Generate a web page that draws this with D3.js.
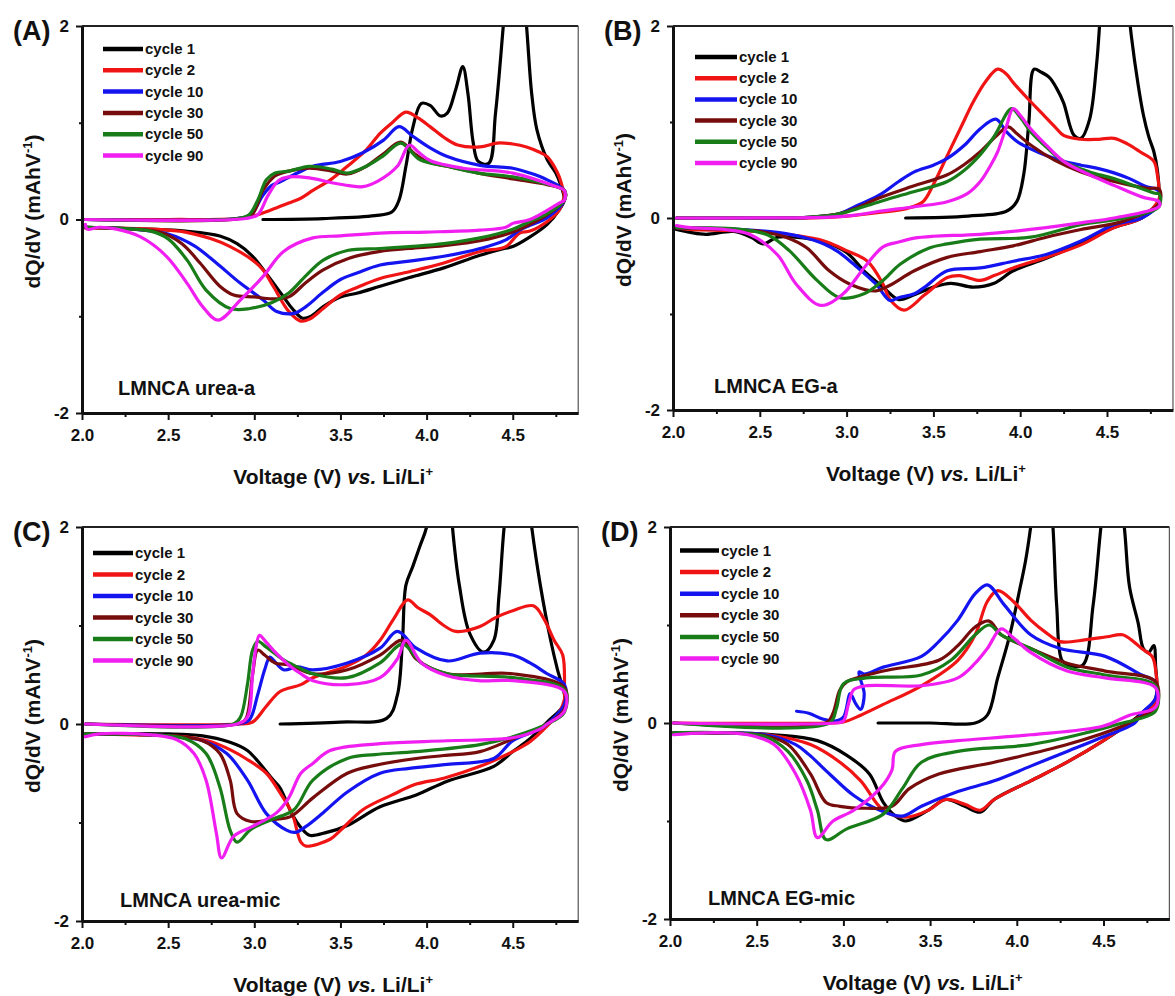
<!DOCTYPE html>
<html>
<head>
<meta charset="utf-8">
<script src="https://cdn.jsdelivr.net/npm/d3@7"></script>
<style>
  body { margin: 0; background: #fff; }
  svg { display: block; }
  text { font-family: "Liberation Sans", Arial, sans-serif; font-weight: bold; fill: #111; }
</style>
</head>
<body>
<svg id="chart" width="1175" height="996"></svg>
<script>
// ---------- axis ticks and legend entries ----------
const voltageTicks = [2.0, 2.5, 3.0, 3.5, 4.0, 4.5];
const voltageMinorTicks = [2.25, 2.75, 3.25, 3.75, 4.25, 4.75];
const dqdvTicks = [-2, 0, 2];
const dqdvMinorTicks = [-1, 1];
const cycleNames = ["cycle 1", "cycle 2", "cycle 10", "cycle 30", "cycle 50", "cycle 90"];
const sampleNames = ["LMNCA urea-a", "LMNCA EG-a", "LMNCA urea-mic", "LMNCA EG-mic"];
const panelLetters = ["(A)", "(B)", "(C)", "(D)"];

// ---------- dQ/dV curves: [voltage (V), dQ/dV (mAh/V)] ----------
// each list holds cycles 1, 2, 10, 30, 50, 90 in order

// (A) urea-a, charge branch
const ureaA_charge = [
  [[3.05,0.0],[3.4,0.01],[3.7,0.04],[3.8,0.08],[3.84,0.2],[3.88,0.55],[3.92,0.95],[3.97,1.2],[4.02,1.18],[4.08,1.07],[4.12,1.1],[4.17,1.35],[4.21,1.58],[4.24,1.3],[4.27,0.8],[4.3,0.6],[4.36,0.58],[4.4,1.1],[4.445,2.0],[4.5,3.2],[4.53,3.0],[4.58,2.0],[4.61,1.3],[4.64,0.93],[4.7,0.62],[4.75,0.48],[4.78,0.35],[4.8,0.22]],
  [[2.02,0.0],[2.5,0.0],[2.9,0.01],[3.0,0.04],[3.1,0.1],[3.2,0.17],[3.27,0.22],[3.34,0.3],[3.45,0.42],[3.54,0.55],[3.65,0.72],[3.73,0.89],[3.8,1.0],[3.88,1.11],[3.95,1.05],[4.02,0.96],[4.1,0.85],[4.18,0.77],[4.31,0.75],[4.41,0.79],[4.5,0.78],[4.58,0.75],[4.65,0.7],[4.7,0.65],[4.74,0.55],[4.77,0.44],[4.8,0.25]],
  [[2.02,0.0],[2.9,0.01],[2.98,0.05],[3.05,0.25],[3.1,0.35],[3.15,0.39],[3.25,0.48],[3.34,0.55],[3.5,0.6],[3.63,0.69],[3.75,0.82],[3.84,0.96],[3.92,0.86],[4.02,0.74],[4.12,0.65],[4.31,0.56],[4.5,0.53],[4.6,0.48],[4.7,0.41],[4.8,0.3]],
  [[2.02,0.0],[2.92,0.01],[2.99,0.06],[3.05,0.3],[3.12,0.45],[3.2,0.5],[3.32,0.53],[3.45,0.5],[3.54,0.47],[3.65,0.55],[3.75,0.68],[3.85,0.8],[3.93,0.68],[4.0,0.6],[4.12,0.55],[4.3,0.48],[4.5,0.42],[4.7,0.36],[4.8,0.3]],
  [[2.02,0.0],[2.9,0.01],[2.97,0.05],[3.02,0.2],[3.07,0.41],[3.12,0.48],[3.2,0.5],[3.32,0.55],[3.45,0.52],[3.54,0.48],[3.65,0.55],[3.75,0.66],[3.85,0.79],[3.96,0.62],[4.12,0.55],[4.3,0.48],[4.5,0.44],[4.75,0.34],[4.8,0.3]],
  [[2.02,0.0],[2.95,0.01],[3.02,0.05],[3.08,0.25],[3.14,0.4],[3.2,0.44],[3.32,0.43],[3.45,0.38],[3.55,0.35],[3.63,0.34],[3.72,0.4],[3.83,0.55],[3.9,0.77],[3.95,0.7],[4.02,0.61],[4.21,0.53],[4.5,0.48],[4.75,0.34],[4.8,0.3]]
];
// (A) urea-a, discharge branch
const ureaA_discharge = [
  [[4.8,0.2],[4.77,0.1],[4.7,-0.05],[4.6,-0.18],[4.5,-0.28],[4.45,-0.3],[4.31,-0.37],[4.1,-0.5],[3.9,-0.6],[3.73,-0.69],[3.6,-0.76],[3.5,-0.8],[3.4,-0.9],[3.33,-1.0],[3.28,-1.02],[3.22,-0.92],[3.17,-0.8],[3.07,-0.56],[2.99,-0.38],[2.9,-0.25],[2.8,-0.17],[2.6,-0.12],[2.4,-0.1],[2.2,-0.09],[2.02,-0.08]],
  [[4.8,0.25],[4.77,0.1],[4.7,-0.02],[4.6,-0.12],[4.54,-0.14],[4.46,-0.28],[4.31,-0.33],[4.1,-0.45],[3.9,-0.54],[3.73,-0.61],[3.6,-0.7],[3.5,-0.78],[3.4,-0.92],[3.32,-1.03],[3.27,-1.05],[3.2,-0.95],[3.11,-0.69],[3.05,-0.52],[2.99,-0.42],[2.86,-0.28],[2.75,-0.2],[2.6,-0.13],[2.4,-0.1],[2.2,-0.09],[2.02,-0.09]],
  [[4.8,0.2],[4.7,0.02],[4.6,-0.06],[4.54,-0.11],[4.46,-0.21],[4.31,-0.3],[4.1,-0.38],[3.9,-0.43],[3.73,-0.47],[3.6,-0.55],[3.5,-0.62],[3.4,-0.75],[3.3,-0.9],[3.23,-0.97],[3.13,-0.95],[3.05,-0.83],[2.92,-0.66],[2.78,-0.45],[2.65,-0.27],[2.5,-0.15],[2.3,-0.1],[2.02,-0.08]],
  [[4.8,0.2],[4.7,0.05],[4.6,-0.05],[4.5,-0.13],[4.31,-0.22],[4.1,-0.27],[3.9,-0.3],[3.73,-0.33],[3.55,-0.4],[3.4,-0.52],[3.3,-0.65],[3.2,-0.8],[3.1,-0.82],[3.0,-0.8],[2.88,-0.78],[2.8,-0.69],[2.685,-0.45],[2.58,-0.25],[2.45,-0.13],[2.3,-0.1],[2.02,-0.08]],
  [[4.8,0.2],[4.7,0.06],[4.6,-0.02],[4.5,-0.1],[4.31,-0.19],[4.1,-0.25],[3.9,-0.28],[3.73,-0.3],[3.54,-0.32],[3.4,-0.42],[3.3,-0.58],[3.2,-0.76],[3.1,-0.86],[2.975,-0.92],[2.86,-0.92],[2.72,-0.73],[2.61,-0.42],[2.5,-0.2],[2.4,-0.12],[2.2,-0.09],[2.02,-0.08]],
  [[4.8,0.2],[4.77,0.17],[4.6,0.0],[4.5,-0.04],[4.46,-0.08],[4.31,-0.11],[4.0,-0.13],[3.73,-0.14],[3.5,-0.17],[3.34,-0.19],[3.17,-0.33],[3.05,-0.59],[2.92,-0.83],[2.79,-1.04],[2.7,-0.9],[2.61,-0.66],[2.49,-0.38],[2.34,-0.18],[2.2,-0.1],[2.1,-0.08],[2.03,-0.1],[2.02,-0.05]]
];

// (B) EG-a, charge branch
const egA_charge = [
  [[3.34,0.0],[3.7,0.02],[3.92,0.07],[3.98,0.17],[4.02,0.45],[4.05,1.0],[4.08,1.55],[4.12,1.52],[4.17,1.46],[4.21,1.35],[4.25,1.2],[4.31,0.86],[4.35,0.83],[4.4,1.03],[4.44,1.6],[4.47,2.3],[4.54,3.4],[4.6,2.6],[4.64,1.9],[4.68,1.38],[4.71,1.07],[4.74,0.85],[4.77,0.69],[4.79,0.5],[4.8,0.3]],
  [[2.02,0.0],[2.8,0.0],[3.0,0.02],[3.2,0.06],[3.35,0.1],[3.44,0.17],[3.5,0.35],[3.58,0.65],[3.66,0.95],[3.73,1.21],[3.8,1.42],[3.87,1.55],[3.92,1.5],[3.96,1.41],[4.04,1.25],[4.12,1.1],[4.2,0.95],[4.25,0.86],[4.35,0.82],[4.45,0.82],[4.54,0.83],[4.62,0.77],[4.69,0.69],[4.77,0.59],[4.79,0.45],[4.8,0.3]],
  [[2.02,0.0],[2.8,0.01],[2.95,0.04],[3.05,0.12],[3.19,0.24],[3.3,0.38],[3.39,0.48],[3.5,0.55],[3.58,0.62],[3.68,0.76],[3.77,0.93],[3.86,1.03],[3.92,0.9],[3.98,0.8],[4.06,0.72],[4.15,0.65],[4.25,0.59],[4.35,0.55],[4.44,0.52],[4.54,0.47],[4.63,0.41],[4.72,0.33],[4.8,0.28]],
  [[2.02,0.0],[2.8,0.01],[2.95,0.04],[3.05,0.1],[3.19,0.21],[3.38,0.33],[3.58,0.45],[3.68,0.56],[3.77,0.69],[3.86,0.85],[3.93,0.95],[3.98,0.88],[4.06,0.76],[4.2,0.6],[4.35,0.48],[4.5,0.4],[4.73,0.31],[4.8,0.3]],
  [[2.02,0.0],[2.8,0.01],[2.95,0.04],[3.05,0.09],[3.19,0.17],[3.38,0.27],[3.58,0.38],[3.68,0.5],[3.77,0.66],[3.85,0.85],[3.95,1.14],[4.0,1.05],[4.06,0.9],[4.15,0.74],[4.25,0.59],[4.4,0.48],[4.54,0.41],[4.77,0.26],[4.8,0.25]],
  [[2.02,0.0],[2.9,0.01],[3.05,0.03],[3.19,0.07],[3.4,0.12],[3.58,0.17],[3.7,0.26],[3.77,0.38],[3.83,0.55],[3.87,0.69],[3.92,0.95],[3.96,1.14],[4.0,1.07],[4.06,0.93],[4.15,0.76],[4.25,0.59],[4.4,0.45],[4.54,0.34],[4.7,0.22],[4.8,0.17]]
];
// (B) EG-a, discharge branch
const egA_discharge = [
  [[4.8,0.15],[4.7,0.0],[4.54,-0.1],[4.35,-0.26],[4.15,-0.42],[3.96,-0.55],[3.85,-0.68],[3.73,-0.72],[3.6,-0.68],[3.5,-0.72],[3.39,-0.8],[3.3,-0.85],[3.21,-0.72],[3.1,-0.55],[3.0,-0.36],[2.87,-0.25],[2.7,-0.2],[2.6,-0.2],[2.52,-0.27],[2.45,-0.2],[2.35,-0.14],[2.19,-0.17],[2.1,-0.15],[2.02,-0.12]],
  [[4.8,0.2],[4.7,0.0],[4.54,-0.1],[4.35,-0.28],[4.15,-0.41],[3.96,-0.52],[3.85,-0.6],[3.77,-0.65],[3.65,-0.6],[3.58,-0.62],[3.45,-0.8],[3.33,-0.96],[3.25,-0.85],[3.21,-0.69],[3.12,-0.45],[3.0,-0.34],[2.87,-0.24],[2.7,-0.18],[2.5,-0.14],[2.3,-0.13],[2.1,-0.12],[2.02,-0.1]],
  [[4.8,0.15],[4.7,0.0],[4.54,-0.07],[4.35,-0.24],[4.15,-0.38],[3.96,-0.45],[3.77,-0.52],[3.58,-0.55],[3.45,-0.72],[3.39,-0.79],[3.3,-0.83],[3.25,-0.86],[3.17,-0.69],[3.04,-0.48],[2.95,-0.35],[2.87,-0.27],[2.75,-0.2],[2.6,-0.15],[2.4,-0.12],[2.02,-0.1]],
  [[4.8,0.15],[4.6,-0.03],[4.35,-0.12],[4.15,-0.2],[3.96,-0.29],[3.77,-0.35],[3.58,-0.41],[3.39,-0.55],[3.25,-0.7],[3.17,-0.76],[3.02,-0.69],[2.9,-0.55],[2.77,-0.31],[2.65,-0.2],[2.5,-0.14],[2.3,-0.12],[2.02,-0.1]],
  [[4.8,0.12],[4.6,0.0],[4.35,-0.07],[4.06,-0.2],[3.77,-0.22],[3.58,-0.27],[3.48,-0.31],[3.31,-0.48],[3.21,-0.65],[3.1,-0.79],[2.96,-0.83],[2.83,-0.65],[2.67,-0.34],[2.55,-0.18],[2.4,-0.12],[2.02,-0.1]],
  [[4.8,0.12],[4.54,0.0],[4.35,-0.05],[4.15,-0.1],[3.77,-0.17],[3.5,-0.19],[3.39,-0.21],[3.3,-0.25],[3.21,-0.3],[3.1,-0.52],[2.98,-0.79],[2.85,-0.91],[2.71,-0.69],[2.6,-0.38],[2.44,-0.17],[2.3,-0.12],[2.1,-0.1],[2.02,-0.08]]
];

// (C) urea-mic, charge branch
const ureaMic_charge = [
  [[3.15,0.0],[3.5,0.02],[3.77,0.06],[3.83,0.29],[3.86,0.85],[3.88,1.41],[3.92,1.6],[3.96,1.8],[4.0,2.0],[4.07,2.8],[4.13,2.5],[4.15,2.0],[4.19,1.41],[4.25,0.92],[4.33,0.73],[4.39,0.85],[4.42,1.3],[4.45,2.0],[4.53,3.2],[4.61,2.0],[4.66,1.41],[4.72,0.85],[4.76,0.55],[4.8,0.3]],
  [[2.02,0.0],[2.9,0.0],[2.99,0.02],[3.07,0.18],[3.15,0.33],[3.27,0.4],[3.34,0.47],[3.54,0.59],[3.65,0.7],[3.73,0.85],[3.81,1.07],[3.89,1.26],[3.95,1.18],[4.02,1.11],[4.1,1.0],[4.17,0.94],[4.31,0.99],[4.4,1.08],[4.5,1.15],[4.62,1.2],[4.68,1.07],[4.74,0.85],[4.79,0.7],[4.8,0.33]],
  [[2.02,0.0],[2.9,0.0],[2.97,0.04],[3.02,0.3],[3.06,0.55],[3.09,0.68],[3.11,0.65],[3.17,0.55],[3.25,0.58],[3.34,0.55],[3.54,0.62],[3.73,0.77],[3.83,0.94],[3.94,0.77],[4.12,0.64],[4.31,0.72],[4.5,0.7],[4.6,0.62],[4.7,0.51],[4.8,0.4]],
  [[2.02,0.0],[2.9,0.0],[2.95,0.05],[2.99,0.5],[3.02,0.75],[3.06,0.7],[3.12,0.62],[3.2,0.6],[3.34,0.51],[3.54,0.55],[3.73,0.7],[3.86,0.85],[3.94,0.66],[4.12,0.51],[4.5,0.51],[4.8,0.37]],
  [[2.02,0.0],[2.88,0.0],[2.92,0.07],[2.96,0.4],[2.99,0.75],[3.02,0.84],[3.07,0.78],[3.17,0.65],[3.25,0.58],[3.34,0.51],[3.54,0.47],[3.73,0.62],[3.86,0.81],[3.97,0.62],[4.12,0.51],[4.5,0.47],[4.8,0.35]],
  [[2.02,0.0],[2.9,0.0],[2.96,0.07],[2.99,0.5],[3.01,0.78],[3.03,0.9],[3.06,0.85],[3.11,0.75],[3.2,0.6],[3.27,0.51],[3.34,0.44],[3.54,0.4],[3.73,0.47],[3.83,0.66],[3.88,0.85],[3.97,0.62],[4.12,0.49],[4.3,0.44],[4.5,0.44],[4.8,0.33]]
];
// (C) urea-mic, discharge branch
const ureaMic_discharge = [
  [[4.8,0.2],[4.7,0.02],[4.6,-0.15],[4.5,-0.28],[4.39,-0.43],[4.12,-0.58],[3.94,-0.72],[3.73,-0.84],[3.54,-1.03],[3.42,-1.1],[3.32,-1.13],[3.27,-1.05],[3.22,-0.92],[3.15,-0.65],[3.11,-0.57],[2.96,-0.27],[2.85,-0.18],[2.7,-0.12],[2.5,-0.1],[2.02,-0.1]],
  [[4.8,0.25],[4.77,0.12],[4.7,-0.02],[4.6,-0.18],[4.5,-0.28],[4.31,-0.43],[4.1,-0.55],[3.94,-0.61],[3.8,-0.72],[3.63,-0.87],[3.5,-1.08],[3.44,-1.17],[3.3,-1.24],[3.27,-1.2],[3.22,-0.91],[3.15,-0.7],[3.07,-0.5],[2.95,-0.35],[2.87,-0.27],[2.75,-0.18],[2.6,-0.13],[2.3,-0.11],[2.02,-0.1]],
  [[4.8,0.2],[4.7,0.0],[4.66,-0.05],[4.5,-0.17],[4.39,-0.35],[4.12,-0.41],[3.9,-0.45],[3.73,-0.5],[3.54,-0.69],[3.4,-0.9],[3.3,-1.04],[3.24,-1.1],[3.19,-1.08],[3.07,-0.91],[2.96,-0.57],[2.84,-0.3],[2.7,-0.17],[2.5,-0.12],[2.02,-0.1]],
  [[4.8,0.15],[4.7,0.0],[4.5,-0.15],[4.31,-0.28],[4.1,-0.32],[3.94,-0.35],[3.7,-0.42],[3.54,-0.5],[3.34,-0.75],[3.21,-0.94],[3.1,-0.97],[2.98,-0.99],[2.9,-0.91],[2.86,-0.57],[2.8,-0.3],[2.7,-0.17],[2.5,-0.12],[2.02,-0.1]],
  [[4.8,0.12],[4.7,0.0],[4.5,-0.13],[4.31,-0.21],[3.94,-0.28],[3.7,-0.31],[3.54,-0.35],[3.34,-0.57],[3.23,-0.87],[3.1,-0.97],[2.98,-1.07],[2.9,-1.2],[2.86,-1.08],[2.8,-0.64],[2.72,-0.3],[2.6,-0.15],[2.4,-0.11],[2.02,-0.1]],
  [[4.8,0.13],[4.7,0.0],[4.66,-0.05],[4.5,-0.14],[4.12,-0.17],[3.73,-0.2],[3.44,-0.27],[3.34,-0.4],[3.27,-0.5],[3.2,-0.75],[3.13,-0.9],[2.99,-1.04],[2.88,-1.14],[2.81,-1.36],[2.78,-1.11],[2.72,-0.57],[2.65,-0.3],[2.55,-0.16],[2.4,-0.11],[2.1,-0.1],[2.02,-0.13]]
];

// (D) EG-mic, charge branch
const egMic_charge = [
  [[3.2,0.0],[3.5,0.0],[3.76,0.0],[3.83,0.08],[3.89,0.46],[3.96,0.9],[4.02,1.39],[4.05,1.65],[4.08,2.0],[4.14,2.9],[4.2,2.2],[4.23,1.2],[4.26,0.64],[4.3,0.59],[4.38,0.59],[4.44,1.2],[4.485,2.0],[4.55,3.0],[4.62,2.0],[4.65,1.39],[4.7,1.02],[4.73,0.76],[4.76,0.72],[4.79,0.79],[4.8,0.6]],
  [[2.02,0.0],[2.9,0.0],[3.0,0.01],[3.1,0.08],[3.23,0.19],[3.45,0.38],[3.66,0.64],[3.76,0.9],[3.83,1.24],[3.89,1.35],[3.98,1.24],[4.08,1.05],[4.17,0.92],[4.25,0.83],[4.4,0.85],[4.52,0.88],[4.61,0.9],[4.68,0.82],[4.72,0.76],[4.78,0.68],[4.8,0.55]],
  [[2.73,0.12],[2.8,0.1],[2.88,0.04],[2.95,0.02],[3.0,0.06],[3.04,0.3],[3.07,0.2],[3.1,0.14],[3.12,0.3],[3.09,0.52],[3.12,0.5],[3.23,0.57],[3.45,0.68],[3.55,0.83],[3.66,1.05],[3.76,1.32],[3.83,1.41],[3.93,1.2],[4.08,0.9],[4.25,0.76],[4.51,0.68],[4.72,0.49],[4.8,0.42]],
  [[2.02,0.0],[2.9,0.0],[2.94,0.1],[2.98,0.34],[3.02,0.42],[3.23,0.53],[3.55,0.64],[3.66,0.79],[3.76,0.98],[3.84,1.04],[3.91,0.9],[4.08,0.76],[4.29,0.61],[4.51,0.53],[4.8,0.42]],
  [[2.02,0.0],[2.92,0.0],[2.96,0.15],[3.0,0.4],[3.13,0.46],[3.45,0.49],[3.62,0.64],[3.76,0.9],[3.84,1.0],[3.91,0.9],[4.08,0.76],[4.29,0.57],[4.51,0.49],[4.8,0.38]],
  [[2.02,0.0],[2.95,0.0],[3.0,0.02],[3.03,0.2],[3.06,0.34],[3.13,0.38],[3.45,0.38],[3.66,0.46],[3.76,0.61],[3.83,0.76],[3.91,0.96],[3.98,0.87],[4.08,0.72],[4.29,0.53],[4.51,0.46],[4.8,0.36]]
];
// (D) EG-mic, discharge branch
const egMic_discharge = [
  [[4.8,0.25],[4.72,0.1],[4.65,0.0],[4.5,-0.18],[4.29,-0.4],[4.08,-0.59],[3.87,-0.78],[3.79,-0.91],[3.7,-0.85],[3.59,-0.78],[3.49,-0.89],[3.36,-1.0],[3.3,-0.95],[3.23,-0.81],[3.15,-0.52],[3.02,-0.33],[2.85,-0.18],[2.6,-0.12],[2.3,-0.1],[2.02,-0.1]],
  [[4.8,0.2],[4.72,0.08],[4.65,0.0],[4.5,-0.18],[4.29,-0.4],[4.08,-0.59],[3.87,-0.78],[3.79,-0.89],[3.7,-0.83],[3.59,-0.78],[3.49,-0.89],[3.36,-0.96],[3.23,-0.89],[3.1,-0.59],[2.98,-0.4],[2.81,-0.22],[2.6,-0.13],[2.3,-0.1],[2.02,-0.1]],
  [[4.8,0.25],[4.72,0.1],[4.68,0.0],[4.5,-0.14],[4.29,-0.29],[4.08,-0.44],[3.87,-0.59],[3.66,-0.7],[3.45,-0.85],[3.34,-0.95],[3.21,-0.89],[3.06,-0.74],[2.92,-0.52],[2.8,-0.32],[2.725,-0.22],[2.55,-0.12],[2.3,-0.1],[2.02,-0.1]],
  [[4.8,0.15],[4.7,0.05],[4.61,-0.03],[4.29,-0.22],[3.87,-0.4],[3.55,-0.52],[3.38,-0.67],[3.28,-0.85],[3.13,-0.87],[2.98,-0.85],[2.9,-0.81],[2.81,-0.52],[2.68,-0.22],[2.55,-0.13],[2.3,-0.1],[2.02,-0.1]],
  [[4.8,0.12],[4.7,0.04],[4.61,0.0],[4.4,-0.1],[4.08,-0.22],[3.66,-0.29],[3.45,-0.4],[3.34,-0.67],[3.23,-0.93],[3.02,-1.08],[2.9,-1.19],[2.85,-0.89],[2.79,-0.59],[2.68,-0.29],[2.55,-0.14],[2.3,-0.1],[2.02,-0.1]],
  [[4.8,0.16],[4.65,0.08],[4.5,-0.03],[4.08,-0.12],[3.66,-0.18],[3.45,-0.22],[3.3,-0.29],[3.28,-0.48],[3.21,-0.67],[3.06,-0.89],[2.94,-1.0],[2.85,-1.17],[2.81,-0.89],[2.725,-0.52],[2.6,-0.22],[2.45,-0.12],[2.2,-0.1],[2.02,-0.12]]
];

// ---------- styling ----------
const cycleColors = ["#000000", "#f01414", "#1414f0", "#760c0c", "#187c18", "#f01ef0"];

// panel frames (pixel geometry) and the data they show
const panels = [
  { letter: panelLetters[0], name: sampleNames[0], charge: ureaA_charge, discharge: ureaA_discharge,
    x20: 82, pxPerV: 172.3, yTop: 26, yBot: 413,
    legend: { x: 103, y: 49, dy: 21.3, len: 40 }, note: { x: 118, y: 395 } },
  { letter: panelLetters[1], name: sampleNames[1], charge: egA_charge, discharge: egA_discharge,
    x20: 673, pxPerV: 173.6, yTop: 26, yBot: 410,
    legend: { x: 695, y: 57, dy: 21.2, len: 42 }, note: { x: 714, y: 393 } },
  { letter: panelLetters[2], name: sampleNames[2], charge: ureaMic_charge, discharge: ureaMic_discharge,
    x20: 82, pxPerV: 172.3, yTop: 527, yBot: 921,
    legend: { x: 93, y: 553, dy: 21.5, len: 40 }, note: { x: 120, y: 907 } },
  { letter: panelLetters[3], name: sampleNames[3], charge: egMic_charge, discharge: egMic_discharge,
    x20: 670, pxPerV: 173.4, yTop: 527, yBot: 919,
    legend: { x: 680, y: 550.5, dy: 21.6, len: 39 }, note: { x: 708, y: 905 } }
];

const vMin = 2.0, vMax = 4.88;
const svg = d3.select("#chart");
// integer labels written with a plain hyphen for negatives
const intLabel = d => String(d);

panels.forEach((p, pi) => {
  const x = d3.scaleLinear().domain([vMin, vMax]).range([p.x20, p.x20 + (vMax - vMin) * p.pxPerV]);
  const y = d3.scaleLinear().domain([-2, 2]).range([p.yBot, p.yTop]);
  const [xl, xr] = x.range();
  const g = svg.append("g");

  // clip region for curves
  const clipId = "clip" + pi;
  svg.append("clipPath").attr("id", clipId)
    .append("rect").attr("x", xl).attr("y", p.yTop).attr("width", xr - xl).attr("height", p.yBot - p.yTop);

  // curves: charge branch followed by discharge branch, one path per cycle
  const line = d3.line()
    .x(d => x(d[0])).y(d => y(d[1]))
    .curve(d3.curveCatmullRom.alpha(0.5));
  const curves = g.append("g").attr("clip-path", `url(#${clipId})`);
  cycleNames.forEach((c, i) => {
    curves.append("path")
      .attr("d", line(p.charge[i].concat(p.discharge[i])))
      .attr("fill", "none")
      .attr("stroke", cycleColors[i])
      .attr("stroke-width", 3.2)
      .attr("stroke-linejoin", "round")
      .attr("stroke-linecap", "round");
  });

  // frame: thin top/right, heavy left/bottom axes
  g.append("line").attr("x1", xl).attr("x2", xr).attr("y1", p.yTop).attr("y2", p.yTop)
    .attr("stroke", "#222").attr("stroke-width", 2);
  g.append("line").attr("x1", xr).attr("x2", xr).attr("y1", p.yTop).attr("y2", p.yBot)
    .attr("stroke", "#555").attr("stroke-width", 1.2);

  // bottom axis
  const xAxis = d3.axisBottom(x).tickValues(voltageTicks).tickFormat(d3.format(".1f"))
    .tickSizeInner(7).tickSizeOuter(0).tickPadding(9);
  const xa = g.append("g").attr("transform", `translate(0,${p.yBot})`).call(xAxis);
  xa.select(".domain").attr("stroke", "#111").attr("stroke-width", 3);
  xa.selectAll(".tick line").attr("stroke", "#111").attr("stroke-width", 2);
  xa.selectAll(".tick text").attr("font-size", 17).attr("font-family", "Liberation Sans, Arial, sans-serif")
    .attr("font-weight", "bold").attr("fill", "#222");
  const xMinor = d3.axisBottom(x).tickValues(voltageMinorTicks).tickFormat("").tickSizeInner(4).tickSizeOuter(0);
  const xm = g.append("g").attr("transform", `translate(0,${p.yBot})`).call(xMinor);
  xm.select(".domain").remove();
  xm.selectAll(".tick line").attr("stroke", "#111").attr("stroke-width", 2);

  // left axis
  const yAxis = d3.axisLeft(y).tickValues(dqdvTicks).tickFormat(intLabel)
    .tickSizeInner(6).tickSizeOuter(0).tickPadding(7);
  const ya = g.append("g").attr("transform", `translate(${xl},0)`).call(yAxis);
  ya.select(".domain").attr("stroke", "#111").attr("stroke-width", 3);
  ya.selectAll(".tick line").attr("stroke", "#111").attr("stroke-width", 2);
  ya.selectAll(".tick text").attr("font-size", 17).attr("font-family", "Liberation Sans, Arial, sans-serif")
    .attr("font-weight", "bold").attr("fill", "#222");
  const yMinor = d3.axisLeft(y).tickValues(dqdvMinorTicks).tickFormat("").tickSizeInner(3).tickSizeOuter(0);
  const ymn = g.append("g").attr("transform", `translate(${xl},0)`).call(yMinor);
  ymn.select(".domain").remove();
  ymn.selectAll(".tick line").attr("stroke", "#111").attr("stroke-width", 2);

  // axis titles
  const xt = g.append("text")
    .attr("x", (xl + xr) / 2 + 3).attr("y", p.yBot + 71)
    .attr("text-anchor", "middle").attr("font-size", 21);
  xt.append("tspan").text("Voltage (V) ");
  xt.append("tspan").attr("font-style", "italic").text("vs.");
  xt.append("tspan").text(" Li/Li");
  xt.append("tspan").attr("font-size", 13).attr("dy", -8).text("+");

  const yc = (p.yTop + p.yBot) / 2 - 8;
  const yt = g.append("text")
    .attr("transform", `translate(${xl - 42},${yc}) rotate(-90)`)
    .attr("text-anchor", "middle").attr("font-size", 21);
  yt.append("tspan").text("dQ/dV (mAhV");
  yt.append("tspan").attr("font-size", 13).attr("dy", -8).text("-1");
  yt.append("tspan").attr("dy", 8).text(")");

  // panel letter
  g.append("text").attr("x", xl - 69).attr("y", p.yTop + 14)
    .attr("font-size", 27).text(p.letter);

  // sample label
  g.append("text").attr("x", p.note.x).attr("y", p.note.y)
    .attr("font-size", 20).text(p.name);

  // legend
  const lg = g.append("g");
  cycleNames.forEach((c, i) => {
    const ly = p.legend.y + i * p.legend.dy;
    lg.append("line")
      .attr("x1", p.legend.x).attr("x2", p.legend.x + p.legend.len)
      .attr("y1", ly).attr("y2", ly)
      .attr("stroke", cycleColors[i]).attr("stroke-width", 4.5);
    lg.append("text")
      .attr("x", p.legend.x + p.legend.len + 2).attr("y", ly + 5)
      .attr("font-size", 15).text(c);
  });
});
</script>
</body>
</html>
